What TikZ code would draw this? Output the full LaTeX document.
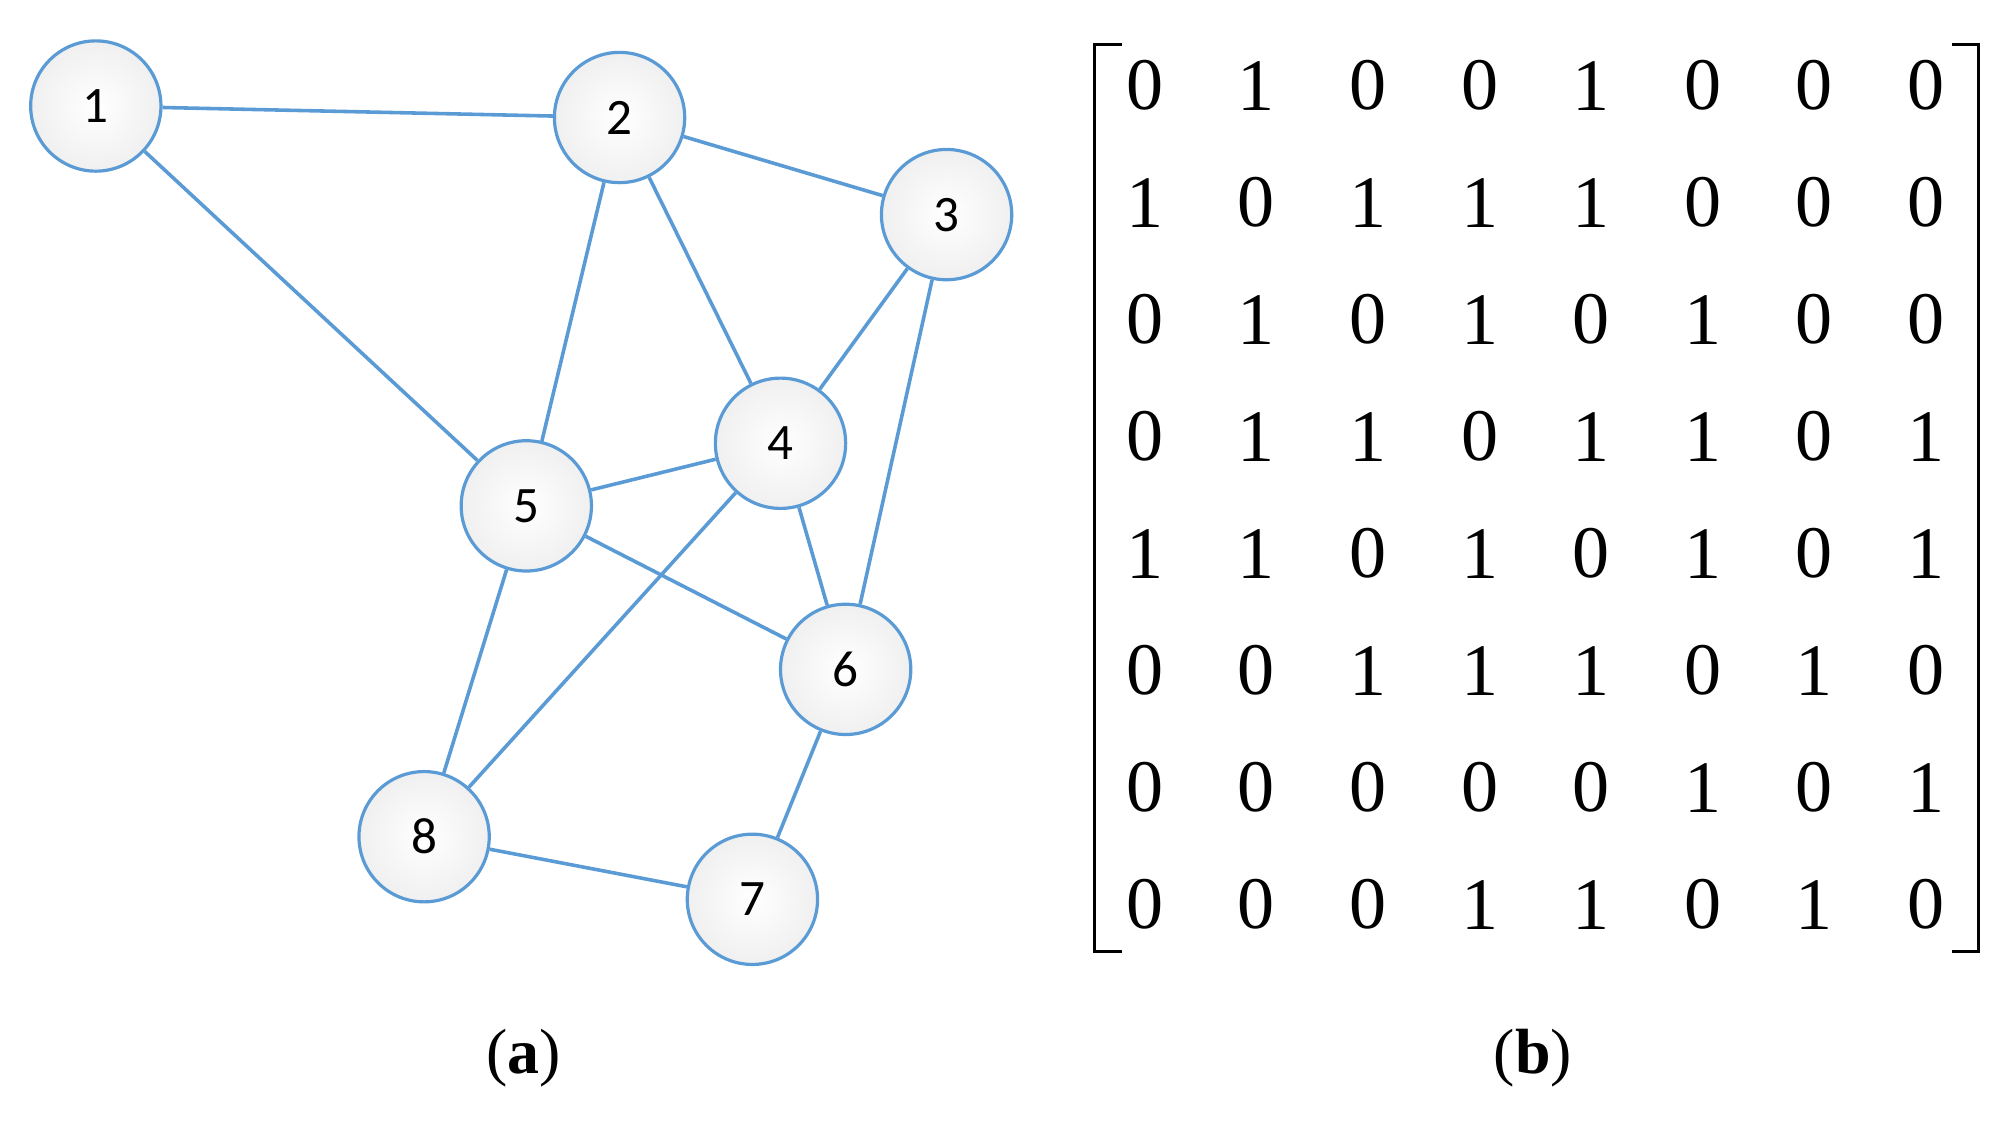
\documentclass[tikz,border=0pt]{standalone}
\usepackage{fontspec}
\setmainfont{Liberation Serif}
\newfontfamily\carl{Carlito}
\definecolor{eb}{HTML}{5B9BD5}
\begin{document}
\begin{tikzpicture}[x=1pt,y=-1pt,
 v/.style={circle,draw=eb,line width=2.5pt,minimum size=102pt,inner sep=0pt,inner color=white,outer color=gray!12,font=\carl\fontsize{40}{40}\selectfont},
 e/.style={eb,line width=2.8pt},
 m/.style={font=\fontsize{58}{58}\selectfont},
 br/.style={line width=2pt}]
\useasboundingbox (0,0) rectangle (1568,885);
\node[v] (n1) at (75,83) {1};
\node[v] (n2) at (485,92) {2};
\node[v] (n3) at (741,168) {3};
\node[v] (n4) at (611,347) {4};
\node[v] (n5) at (412,396) {5};
\node[v] (n6) at (662,524) {6};
\node[v] (n7) at (589,704) {7};
\node[v] (n8) at (332,655) {8};
\begin{scope}[on background layer/.style={}]
\foreach \a/\b in {1/2,1/5,2/3,2/4,2/5,3/4,3/6,4/5,4/6,4/8,5/6,5/8,6/7,8/7}
  \draw[e] (n\a) -- (n\b);
\end{scope}
\def\rows{{0,1,0,0,1,0,0,0},{1,0,1,1,1,0,0,0},{0,1,0,1,0,1,0,0},{0,1,1,0,1,1,0,1},{1,1,0,1,0,1,0,1},{0,0,1,1,1,0,1,0},{0,0,0,0,0,1,0,1},{0,0,0,1,1,0,1,0}}
\foreach \r [count=\i from 0] in {{0,1,0,0,1,0,0,0},{1,0,1,1,1,0,0,0},{0,1,0,1,0,1,0,0},{0,1,1,0,1,1,0,1},{1,1,0,1,0,1,0,1},{0,0,1,1,1,0,1,0},{0,0,0,0,0,1,0,1},{0,0,0,1,1,0,1,0}}
  \foreach \d [count=\j from 0] in \r
    \node[m] (c\i\j) at ({896+87.4*\j},{67+91.6*\i}) {\d};
\coordinate (lt) at (878,35); \coordinate (lb) at (878,745);
\coordinate (rt) at (1528,35); \coordinate (rb) at (1528,745);
\draw[br] (lt) -- (857,35) -- (857,745) -- (lb);
\draw[br] (rt) -- (1549,35) -- (1549,745) -- (rb);
\node[font=\fontsize{50}{50}\selectfont] (la) at (410,828) {(\textbf{a})};
\node[font=\fontsize{50}{50}\selectfont] (lbb) at (1200,828) {(\textbf{b})};
\end{tikzpicture}
\end{document}
